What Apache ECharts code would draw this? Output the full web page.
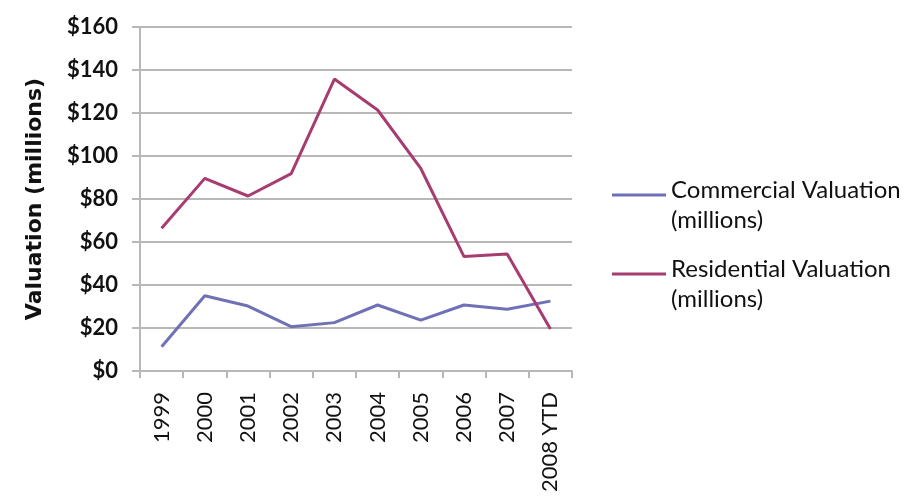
<!DOCTYPE html>
<html>
<head>
<meta charset="utf-8">
<script src="https://cdn.jsdelivr.net/npm/echarts@6/dist/echarts.min.js"></script>
<style>
  html, body { margin: 0; padding: 0; background: #fff; }
  #chart { width: 908px; height: 503px; }
</style>
</head>
<body>
<div id="chart"></div>
<script>
// values, in millions of dollars
var years = ['1999', '2000', '2001', '2002', '2003', '2004', '2005', '2006', '2007', '2008 YTD']
var commercial = [11.3, 35, 30.2, 20.6, 22.5, 30.7, 23.7, 30.7, 28.7, 32.5]
var residential = [66.4, 89.6, 81.4, 91.8, 135.8, 121.4, 94.2, 53.2, 54.4, 19.5]
var seriesNames = ['Commercial Valuation (millions)', 'Residential Valuation (millions)']

var font = 'Lato'
var gridColor = '#b8b8b8'

var option = {
  animation: false,
  backgroundColor: '#fff',
  grid: { left: 140, right: 336, top: 27, bottom: 132 },
  legend: {
    orient: 'vertical',
    left: 607,
    top: 170,
    itemWidth: 54,
    itemHeight: 23,
    itemGap: 19,
    // line sits in the upper part of the icon box so it lines up with the first text line
    icon: 'path://M0,0 L54,0 L54,3 L0,3 Z M0,23 L0.01,23 L0.01,23 Z',
    formatter: function (name) {
      return name.replace(' (', '\n(')
    },
    textStyle: {
      fontFamily: font,
      fontSize: 24,
      color: '#111',
      lineHeight: 30
    },
    data: seriesNames
  },
  xAxis: {
    type: 'category',
    data: years,
    boundaryGap: true,
    axisLine: { lineStyle: { color: gridColor, width: 2 } },
    axisTick: { show: true, length: 7, lineStyle: { color: gridColor, width: 2 } },
    axisLabel: {
      rotate: 90,
      margin: 21,
      fontFamily: font,
      fontSize: 22,
      color: '#111'
    }
  },
  yAxis: {
    type: 'value',
    min: 0,
    max: 160,
    interval: 20,
    name: 'Valuation (millions)',
    nameLocation: 'middle',
    nameRotate: 90,
    nameGap: 94,
    nameTextStyle: { fontFamily: 'DejaVu Sans', fontSize: 22, fontWeight: 'bold', color: '#111' },
    axisLine: { show: true, lineStyle: { color: gridColor, width: 2 } },
    axisTick: { show: true, length: 8, lineStyle: { color: gridColor, width: 2 } },
    splitLine: { lineStyle: { color: gridColor, width: 2 } },
    axisLabel: {
      margin: 22,
      fontFamily: font,
      fontSize: 22,
      fontWeight: 'bold',
      color: '#111',
      formatter: function (v) { return '$' + v }
    }
  },
  series: [
    {
      name: seriesNames[0],
      type: 'line',
      data: commercial,
      symbol: 'none',
      color: '#7070b6',
      lineStyle: { width: 3, color: '#7070b6' }
    },
    {
      name: seriesNames[1],
      type: 'line',
      data: residential,
      symbol: 'none',
      color: '#a63c70',
      lineStyle: { width: 3, color: '#a63c70' }
    }
  ]
}

var myChart = echarts.init(document.getElementById('chart'), null, { renderer: 'canvas' })
myChart.setOption(option)
</script>
</body>
</html>
